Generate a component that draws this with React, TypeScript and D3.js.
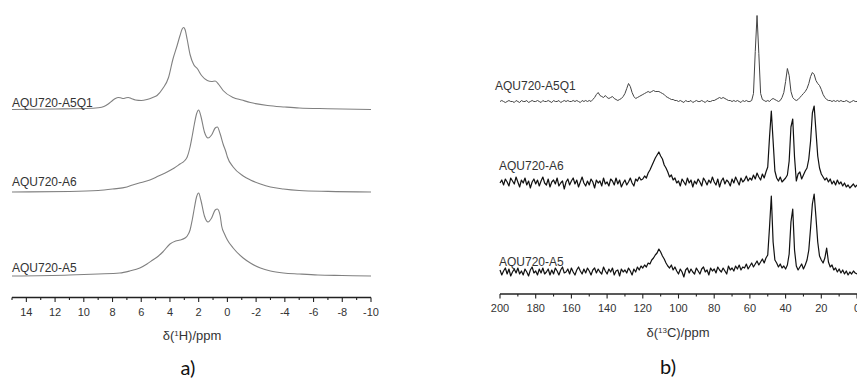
import React from "react";
import * as d3 from "d3";

// ---------- Panel a: 1H spectra, [ppm, intensity] ----------
const hA5Q1: [number, number][] = [
  [15, 0], [12, 0.5], [10, 1], [9, 1.8], [8.6, 3], [8.3, 5.5], [8.0, 9], [7.8, 11], [7.6, 12],
  [7.4, 11.5], [7.25, 11], [7.1, 11.5], [6.9, 12], [6.7, 11], [6.4, 9.5], [6.0, 9], [5.6, 10],
  [5.2, 12], [4.9, 14], [4.5, 21], [4.1, 32], [3.8, 50], [3.5, 64], [3.3, 74], [3.15, 80.5], [3.05, 82],
  [2.95, 80], [2.8, 70], [2.6, 55], [2.35, 45], [2.1, 41], [1.8, 34], [1.4, 29], [1.1, 28], [0.85, 28.5],
  [0.6, 25], [0.3, 19], [-0.4, 12], [-1, 9.5], [-1.6, 7], [-2.8, 4], [-4, 2.5], [-5, 1.5],
  [-7, 0.8], [-10, 0],
];
const hA6: [number, number][] = [
  [15, 0], [11, 0.5], [9, 1.5], [8, 3], [7, 5], [6.6, 7], [6, 9.5], [5.4, 12], [4.8, 16],
  [4.2, 20], [3.7, 24], [3.3, 28], [3.0, 31], [2.8, 35], [2.6, 45], [2.45, 56], [2.3, 68],
  [2.15, 78], [2.0, 82], [1.85, 76], [1.6, 60], [1.35, 54], [1.1, 57], [0.85, 64], [0.7, 65],
  [0.5, 58], [0.3, 48], [0.1, 40], [0, 35], [-0.4, 25], [-1.1, 16], [-1.6, 12], [-2.3, 8],
  [-3, 5], [-3.9, 3], [-5, 1.5], [-7, 0.6], [-10, 0],
];
const hA5: [number, number][] = [
  [15, 0], [11, 1], [9, 2], [7.5, 3], [6.8, 5], [6.1, 8], [5.6, 12], [5.2, 16], [4.8, 20],
  [4.5, 24], [4.0, 32], [3.6, 35], [3.3, 36], [2.95, 38], [2.8, 40], [2.6, 46], [2.45, 56],
  [2.3, 68], [2.15, 79], [2.0, 83], [1.85, 76], [1.6, 60], [1.35, 54], [1.1, 58], [0.85, 66],
  [0.7, 67], [0.5, 60], [0.4, 50], [0.2, 42], [0, 36], [-0.4, 28], [-1.1, 18], [-1.6, 13],
  [-2.3, 8], [-3, 5], [-3.9, 3], [-5, 2], [-6.3, 1], [-8, 0.5], [-10, 0],
];
const hLabels = ["AQU720-A5Q1", "AQU720-A6", "AQU720-A5"];
const hTicks = [14, 12, 10, 8, 6, 4, 2, 0, -2, -4, -6, -8, -10];

// ---------- Panel b: 13C spectra, one value per ppm from 200 down to 0 ----------
const cPpm = d3.range(200, -1, -1);
const cA5Q1 = [
  0, 1, 0, -1, 0, 1, 0, 0, -1, 1,
  0, -1, 1, 0, 0, 1, -1, 0, 1, 0,
  0, 1, 0, -1, 1, 0, 0, 1, 0, -1,
  1, 0, 0, 1, -1, 0, 1, 0, 1, 0,
  0, 1, 0, 1, 0, -1, 1, 0, 1, 0,
  1, 0, 2, 4, 7, 9, 6, 5, 4, 6,
  4, 3, 4, 5, 3, 2, 1, 2, 3, 5,
  8, 13, 18, 15, 9, 5, 3, 4, 5, 6,
  7, 8, 9, 10, 9, 10, 11, 10, 10, 10,
  9, 8, 7, 5, 4, 3, 2, 2, 1, 1,
  0, 1, 0, -1, 1, 0, 0, 1, -1, 0,
  1, 0, 0, 1, 0, -1, 1, 0, 0, 1,
  1, 2, 3, 4, 3, 4, 3, 2, 1, 1,
  0, 1, 0, 1, 0, -1, 1, 0, 1, 0,
  0, 1, 8, 50, 86, 48, 8, 2, 1, 0,
  1, 0, 2, 3, 2, 1, 0, 1, 4, 9,
  20, 33, 26, 10, 4, 2, 1, 2, 4, 6,
  8, 10, 13, 18, 25, 29, 27, 21, 18, 16,
  12, 7, 4, 2, 1, 1, 0, 1, 0, 1,
  0, 1, 0, 0, 1, 0, -1, 0, 1, 0,
  0,
];
const cA6 = [
  0, 3, -2, 4, 1, -3, 5, 2, -1, 6,
  1, -4, 3, 0, 5, -2, 2, -5, 1, 4,
  -1, 3, -3, 2, 6, 0, -2, 4, -4, 1,
  3, -1, 5, -3, 0, 2, -6, 1, 4, -2,
  2, 5, -1, 3, -4, 1, 6, 0, -3, 2,
  -2, 4, 1, -5, 3, 0, 2, -3, 5, -1,
  1, -3, 4, 2, -2, 5, -1, 3, -4, 0,
  3, -2, 1, 5, 0, -3, 4, 2, 6, 3,
  4, 7, 5, 10, 13, 17, 21, 25, 28, 31,
  27, 24, 18, 15, 11, 6, 8, 3, 5, 0,
  2, -3, 4, 1, -2, 5, 0, 3, -4, 2,
  -1, 4, 1, -3, 5, 2, -2, 3, 0, 6,
  1, -2, 4, -4, 2, 5, -1, 3, 1, -3,
  4, 0, 6, 2, -2, 5, 1, 3, 7, 2,
  5, 3, 8, 4, 10, 6, 3, 9, 5, 11,
  16, 46, 72, 42, 12, 5, 2, 6, 1, 3,
  5, 8, 22, 56, 64, 26, 2, 9, 11, 4,
  8, 12, 15, 24, 42, 70, 77, 52, 27, 15,
  9, 6, 3, 5, 1, 4, -1, 2, -2, 3,
  -1, 1, -3, 0, -4, -2, -5, -3, -1, -4,
  -2,
];
const cA5 = [
  2, -3, 1, 4, -2, 3, -4, 0, 3, -1,
  4, -2, 1, -3, 3, 0, -4, 2, 5, -1,
  1, -3, 3, -1, 4, -2, 0, 3, -3, 2,
  -2, 4, 1, -3, 2, 5, -1, 0, 3, -2,
  4, 0, -3, 2, 5, 1, -2, 3, -1, 4,
  1, -3, 2, 4, -1, 3, 0, -2, 5, 1,
  -2, 3, 0, 4, -3, 1, 2, -4, 3, 0,
  2, -1, 4, 1, -3, 3, 0, 5, 2, 6,
  4, 7, 5, 9, 8, 12, 14, 17, 19, 23,
  20, 16, 13, 9, 6, 4, 7, 2, 5, 1,
  -2, 3, 0, -5, 2, 4, -1, 3, 0, -2,
  4, 1, -2, 3, 5, 0, 2, -3, 4, 1,
  3, -1, 5, 2, 0, 4, 1, -2, 6, 2,
  4, 1, 6, 3, 7, 2, 5, 4, 8, 3,
  6, 9, 5, 8, 11, 7, 10, 13, 9, 14,
  17, 45, 76, 30, 12, 9, 5, 8, 4, 6,
  3, 7, 18, 50, 63, 22, 6, 2, 5, 8,
  3, 7, 12, 22, 44, 68, 78, 55, 30, 16,
  12, 9, 14, 24, 10, 5, 7, 2, 4, 0,
  3, -1, 2, -2, 1, -3, 0, -2, 1, -1,
  -2,
];
const cLabels = ["AQU720-A5Q1", "AQU720-A6", "AQU720-A5"];
const cTicks = [200, 180, 160, 140, 120, 100, 80, 60, 40, 20, 0];

const FONT = "'Liberation Sans', Arial, Helvetica, sans-serif";

export default function App() {
  // panel a scales
  const xH = d3.scaleLinear().domain([15, -10]).range([12, 371]);
  const yInt = d3.scaleLinear().domain([0, 100]).range([0, -100]);
  const hBase = [109.5, 192, 276];
  const hSeries = [hA5Q1, hA6, hA5];
  const hLabelY = [106.5, 185.5, 271.5];

  // panel b scales
  const xC = d3.scaleLinear().domain([200, 0]).range([500, 857]);
  const cBase = [101.5, 183, 272];
  const cSeries = [cA5Q1, cA6, cA5];
  const cLabelY = [90, 170, 266];
  const cColor = ["#444", "#111", "#111"];
  const cWidth = [1, 1.2, 1.2];

  const lineH = (base: number) =>
    d3
      .line<[number, number]>()
      .x((d) => xH(d[0]))
      .y((d) => base + yInt(d[1]))
      .curve(d3.curveMonotoneX);

  const lineC = (base: number) =>
    d3
      .line<number>()
      .x((_, i) => xC(cPpm[i]))
      .y((d) => base + yInt(d))
      .curve(d3.curveLinear);

  const hAxisY = 297.5;
  const cAxisY = 294;
  const hMinor = d3.range(15, -10.5, -1);
  const cMinor = d3.range(200, -1, -10);

  return (
    <svg
      width={857}
      height={378}
      style={{ position: "absolute", left: 0, top: 0, background: "#fff" }}
      fontFamily={FONT}
    >
      <rect width={857} height={378} fill="#fff" />
      {/* ---------- Panel a ---------- */}
      {hSeries.map((s, i) => (
        <path key={"h" + i} d={lineH(hBase[i])(s) || ""} fill="none" stroke="#808080" strokeWidth={1.1} />
      ))}
      {hLabels.map((t, i) => (
        <text key={"hl" + i} x={12} y={hLabelY[i]} fontSize={12} fill="#333">
          {t}
        </text>
      ))}
      <line x1={xH(15)} x2={xH(-10)} y1={hAxisY} y2={hAxisY} stroke="#222" strokeWidth={1.3} />
      {hMinor.map((v) => (
        <line
          key={"hm" + v}
          x1={xH(v)}
          x2={xH(v)}
          y1={hAxisY}
          y2={hAxisY + (hTicks.includes(v) ? 4.5 : 2.5)}
          stroke="#222"
          strokeWidth={1.1}
        />
      ))}
      {hTicks.map((v) => (
        <text key={"ht" + v} x={xH(v)} y={316} fontSize={11} fill="#333" textAnchor="middle">
          {v}
        </text>
      ))}
      <text x={192} y={339.5} fontSize={13} fill="#333" textAnchor="middle">
        δ(<tspan dy={-4} fontSize={8}>1</tspan>
        <tspan dy={4}>H)/ppm</tspan>
      </text>
      <text x={188} y={375} fontSize={20} fill="#111" textAnchor="middle" fontFamily="Lato, 'Open Sans', sans-serif">
        a)
      </text>

      {/* ---------- Panel b ---------- */}
      {cSeries.map((s, i) => (
        <path key={"c" + i} d={lineC(cBase[i])(s) || ""} fill="none" stroke={cColor[i]} strokeWidth={cWidth[i]} strokeLinejoin="round" />
      ))}
      {cLabels.map((t, i) => (
        <text key={"cl" + i} x={i === 0 ? 495 : 499} y={cLabelY[i]} fontSize={12} fill="#333">
          {t}
        </text>
      ))}
      <line x1={xC(200)} x2={857} y1={cAxisY} y2={cAxisY} stroke="#222" strokeWidth={1.3} />
      {cMinor.map((v) => (
        <line
          key={"cm" + v}
          x1={xC(v)}
          x2={xC(v)}
          y1={cAxisY}
          y2={cAxisY + (cTicks.includes(v) ? 4.5 : 2.5)}
          stroke="#222"
          strokeWidth={1.1}
        />
      ))}
      {cTicks.map((v) => (
        <text key={"ct" + v} x={xC(v)} y={312} fontSize={11} fill="#333" textAnchor="middle">
          {v}
        </text>
      ))}
      <text x={678} y={337} fontSize={13} fill="#333" textAnchor="middle">
        δ(<tspan dy={-4} fontSize={8}>13</tspan>
        <tspan dy={4}>C)/ppm</tspan>
      </text>
      <text x={668} y={374} fontSize={20} fill="#111" textAnchor="middle" fontFamily="Lato, 'Open Sans', sans-serif">
        b)
      </text>
    </svg>
  );
}
